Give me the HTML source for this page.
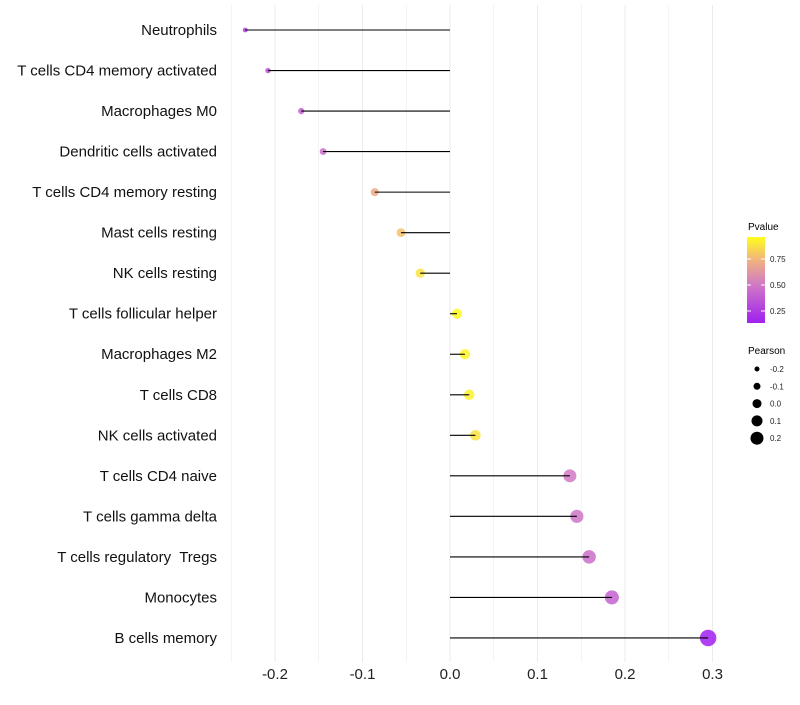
<!DOCTYPE html>
<html><head><meta charset="utf-8"><style>
body{margin:0;background:#fff;font-family:"Liberation Sans",sans-serif}
text{white-space:pre}
</style></head><body>
<svg id="chart" width="800" height="700" xmlns="http://www.w3.org/2000/svg">
<defs><linearGradient id="pg" x1="0" y1="1" x2="0" y2="0">
<stop offset="0" stop-color="#a020f0"/><stop offset="0.45" stop-color="#d17ac4"/><stop offset="0.75" stop-color="#f2b77a"/><stop offset="1" stop-color="#ffff1a"/></linearGradient></defs>
<g id="grid"></g><g id="marks"></g><g id="labels"></g>
<g>
<text x="748" y="230" font-size="10">Pvalue</text>
<rect x="747" y="237" width="18" height="86" fill="url(#pg)"/>
<g id="plegend"></g>
</g>
<g id="slegend">
<text x="748" y="354" font-size="10">Pearson</text>
</g>
</svg>
<script>
const cells=["Neutrophils","T cells CD4 memory activated","Macrophages M0","Dendritic cells activated","T cells CD4 memory resting","Mast cells resting","NK cells resting","T cells follicular helper","Macrophages M2","T cells CD8","NK cells activated","T cells CD4 naive","T cells gamma delta","T cells regulatory  Tregs","Monocytes","B cells memory"];
const pearson=[-0.234,-0.208,-0.170,-0.145,-0.086,-0.056,-0.034,0.008,0.017,0.022,0.029,0.137,0.145,0.159,0.185,0.295];
const pvalue=[0.25,0.33,0.40,0.45,0.70,0.78,0.88,0.95,0.93,0.92,0.88,0.50,0.48,0.45,0.40,0.13];
const xTicks=[-0.2,-0.1,0.0,0.1,0.2,0.3];
const xTickLabels=["-0.2","-0.1","0.0","0.1","0.2","0.3"];
const pTicks=[0.25,0.5,0.75];
const pTickLabels=["0.25","0.50","0.75"];
const sizeTicks=[-0.2,-0.1,0.0,0.1,0.2];
const sizeTickLabels=["-0.2","-0.1","0.0","0.1","0.2"];

const NS="http://www.w3.org/2000/svg";
const X=v=>450+v*875;
const Y=i=>30+i*40.53;
const R=v=>5+11*v;
const PY=p=>285-(p-0.5)*104;
const stops=[[0,[160,32,240]],[0.45,[209,122,196]],[0.75,[242,183,122]],[1,[255,255,26]]];
function col(p){const t=Math.max(0,Math.min(1,(p-0.13)/(0.96-0.13)));
for(let k=1;k<stops.length;k++){if(t<=stops[k][0]){const a=stops[k-1],b=stops[k],f=(t-a[0])/(b[0]-a[0]);
return "rgb("+a[1].map((c,j)=>Math.round(c+(b[1][j]-c)*f)).join(",")+")";}}return "rgb(255,255,26)";}
function el(tag,attrs,parent,text){const e=document.createElementNS(NS,tag);for(const k in attrs)e.setAttribute(k,attrs[k]);if(text!==undefined)e.textContent=text;parent.appendChild(e);return e;}
const grid=document.getElementById('grid'),marks=document.getElementById('marks'),labels=document.getElementById('labels');
for(let v=-0.25;v<=0.301;v+=0.05){const g=el('line',{x1:X(v),x2:X(v),y1:5,y2:662,stroke:'#ebebeb','stroke-width':Math.abs(Math.round(v*20))%2===0?1:0.6},grid);

}
xTicks.forEach((v,i)=>{const t=el('text',{x:X(v),y:679,'font-size':15,'text-anchor':'middle',fill:'#222'},labels,xTickLabels[i]);

});
cells.forEach((c,i)=>{
const t=el('text',{x:217,y:Y(i)+5,'font-size':15,'text-anchor':'end',fill:'#111'},labels,c);


const d=el('circle',{cx:X(pearson[i]),cy:Y(i),r:R(pearson[i]),fill:col(pvalue[i]),'fill-opacity':0.85},marks);


const l=el('line',{x1:X(0),x2:X(pearson[i]),y1:Y(i),y2:Y(i),stroke:'#000','stroke-width':1.1},marks);


});
const pl=document.getElementById('plegend');
pTicks.forEach((p,i)=>{el('line',{x1:747,x2:751,y1:PY(p),y2:PY(p),stroke:'#fff'},pl);el('line',{x1:761,x2:765,y1:PY(p),y2:PY(p),stroke:'#fff'},pl);
const t=el('text',{x:770,y:PY(p)+3,'font-size':8,fill:'#222'},pl,pTickLabels[i]);

});
const sl=document.getElementById('slegend');
sizeTicks.forEach((v,i)=>{const y=369+i*17.3;
const c=el('circle',{cx:757,cy:y,r:4.5+10*v,fill:'#000'},sl);


const t=el('text',{x:770,y:y+3,'font-size':8,fill:'#222'},sl,sizeTickLabels[i]);

});
</script>
</body></html>
